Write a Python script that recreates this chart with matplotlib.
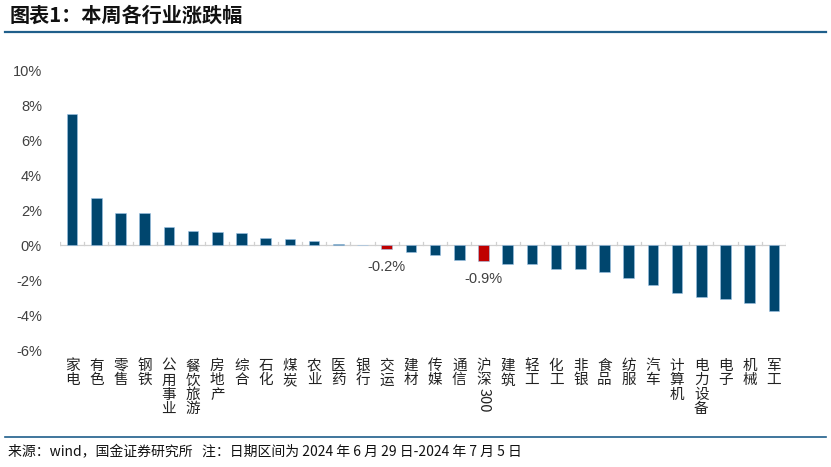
import matplotlib.pyplot as plt
from matplotlib.transforms import blended_transform_factory

plt.rcParams['font.family'] = ['Noto Sans CJK SC', 'DejaVu Sans']

# data
industries = ['家电', '有色', '零售', '钢铁', '公用事业', '餐饮旅游', '房地产', '综合', '石化', '煤炭',
              '农业', '医药', '银行', '交运', '建材', '传媒', '通信', '沪深300', '建筑', '轻工',
              '化工', '非银', '食品', '纺服', '汽车', '计算机', '电力设备', '电子', '机械', '军工']
changes = [7.53, 2.70, 1.87, 1.87, 1.05, 0.84, 0.78, 0.73, 0.40, 0.34,
           0.23, 0.08, 0.01, -0.23, -0.38, -0.53, -0.82, -0.91, -1.09, -1.09,
           -1.37, -1.37, -1.52, -1.87, -2.30, -2.72, -2.95, -3.07, -3.33, -3.77]
highlight = ['交运', '沪深300']
yticks = [-6, -4, -2, 0, 2, 4, 6, 8, 10]

blue = '#00466e'
red = '#c00000'
grey = '#404040'

fig = plt.figure(figsize=(8.31, 4.67), dpi=100)
ax = fig.add_axes([60 / 831, 1 - 350 / 467, 726 / 831, 279 / 467])

n = len(industries)
x = list(range(n))
colors = [red if name in highlight else blue for name in industries]
ax.bar(x, changes, width=0.43, color=colors, edgecolor='#9dc3e6', linewidth=0.4, zorder=3)

ax.set_xlim(-0.5, n - 0.5)
ax.set_ylim(-6, 10)
ax.set_yticks(yticks)
ax.set_yticklabels([f'{t}%' for t in yticks], fontsize=10.5, color=grey,
                   family=['Liberation Sans', 'DejaVu Sans'])
ax.tick_params(axis='y', length=0, pad=13)
ax.set_xticks([])
for s in ax.spines.values():
    s.set_visible(False)

# zero line with small upward separators
ax.axhline(0, color='#d0d0d0', linewidth=0.9, zorder=2)
for b in range(n + 1):
    ax.plot([b - 0.5, b - 0.5], [0, 0.22], color='#d0d0d0', linewidth=0.9, zorder=2)

# value labels for highlighted bars
for i, name in enumerate(industries):
    if name in highlight:
        ax.annotate(f'{changes[i]:.1f}%', (i, changes[i]), xytext=(0, -8), textcoords='offset points',
                    ha='center', va='top', fontsize=10.5, color=grey,
                    family=['Liberation Sans', 'DejaVu Sans'])

# vertical category labels
trans = blended_transform_factory(ax.transData, fig.transFigure)
line_h = 14.3 / 467
y0 = 1 - 359 / 467
for i, name in enumerate(industries):
    chars = [c for c in name if not c.isdigit()]
    digits = ''.join(c for c in name if c.isdigit())
    for k, c in enumerate(chars):
        fig.text(i, y0 - k * line_h, c, transform=trans, ha='center', va='top',
                 fontsize=10.5, color='#222222')
    if digits:
        fig.text(i, y0 - len(chars) * line_h, digits, transform=trans, ha='center', va='top',
                 rotation=270, fontsize=10.5, color='#222222')

# title and rules
fig.text(10 / 831, 1 - 15 / 467, '图表1：本周各行业涨跌幅', ha='left', va='center',
         fontsize=14.5, fontweight='bold', style='italic', color='#111111')
fig.add_artist(plt.Line2D([5 / 831, 826 / 831], [1 - 32 / 467, 1 - 32 / 467],
                          color='#1f5f8b', linewidth=1.6))
fig.add_artist(plt.Line2D([5 / 831, 826 / 831], [1 - 437 / 467, 1 - 437 / 467],
                          color='#1f5f8b', linewidth=1.2))
fig.text(8 / 831, 1 - 452 / 467, '来源：wind，国金证券研究所   注：日期区间为 2024 年 6 月 29 日-2024 年 7 月 5 日',
         ha='left', va='center', fontsize=10, color='#111111')

fig.savefig('out.png', dpi=100)
